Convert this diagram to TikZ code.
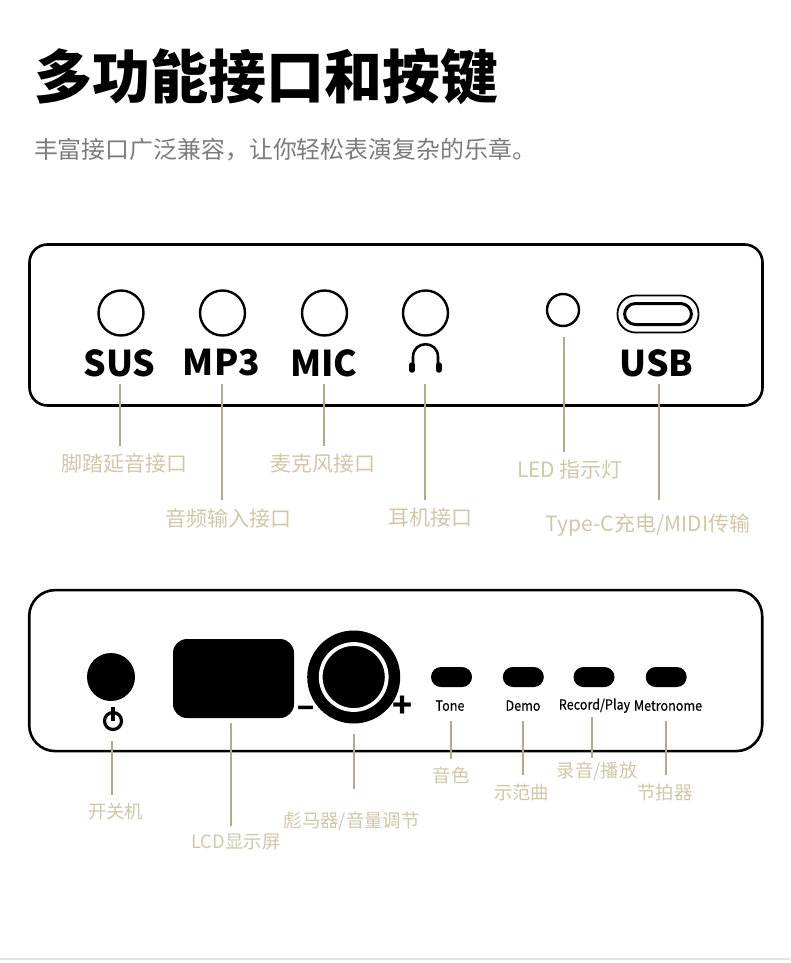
\documentclass[tikz,border=0pt]{standalone}
\usepackage{fontspec}
\usepackage{xcolor}
\setmainfont{Noto Sans CJK SC}
\newfontfamily\narrowfont[FakeStretch=0.9,FakeBold=0.25]{Noto Sans CJK SC}
\definecolor{pnlabel}{HTML}{D2C6A8}
\definecolor{pnlead}{HTML}{B5A88C}
\definecolor{pngrey}{HTML}{7C7C7C}
\definecolor{pnrule}{HTML}{E3E3E3}

\begin{document}
\begin{tikzpicture}[x=1pt,y=-1pt,inner sep=0pt,outer sep=0pt]
  \tikzstyle{panel}=[draw,line width=2.6pt,rounded corners=18pt,minimum width=733pt,minimum height=161pt]
  \tikzstyle{jack}=[draw,circle,line width=2.4pt,minimum size=45pt]
  \tikzstyle{tag}=[font=\fontsize{35.5}{36}\selectfont\bfseries]
  \tikzstyle{btn}=[fill=black,rounded corners=10pt,minimum width=41pt,minimum height=20pt]
  \tikzstyle{btntag}=[font=\fontsize{14}{14}\selectfont\narrowfont]
  \tikzstyle{lab}=[text=pnlabel,font=\fontsize{21}{21}\selectfont]
  \tikzstyle{smalllab}=[text=pnlabel,font=\fontsize{18.4}{19}\selectfont]
  \tikzstyle{lead}=[draw=pnlead,line width=2pt]
  \useasboundingbox (0,0) rectangle (790,963);
  % heading
  \node[anchor=west,font=\fontsize{58}{58}\selectfont\bfseries] (title) at (34,77) {多功能接口和按键};
  \node[anchor=west,text=pngrey,font=\fontsize{23.9}{24}\selectfont] (subtitle) at (34,150) {丰富接口广泛兼容^^^^ff0c让你轻松表演复杂的乐章。};
  % upper panel
  \node[panel] (top) at (396,325) {};
  \node[jack] (sus) at (121,313) {};
  \node[jack] (mp3) at (222.5,313) {};
  \node[jack] (mic) at (324.5,313) {};
  \node[jack] (ear) at (425.5,313) {};
  \node[jack,minimum size=32pt] (led) at (563,310) {};
  \node[draw,line width=1.8pt,rounded corners=18pt,minimum width=81pt,minimum height=37pt] (usbo) at (658,314) {};
  \node[draw,line width=3pt,rounded corners=11pt,minimum width=67pt,minimum height=21pt] (usbi) at (658,314) {};
  \node[tag] (sustag) at (119.5,363) {SUS};
  \node[tag] (mp3tag) at (221.5,363) {MP3};
  \node[tag] (mictag) at (324,363) {MIC};
  \node[tag] (usbtag) at (656.5,363) {USB};
  % headphone
  \draw[line width=2.6pt] (413,367) -- (413,357) .. controls (413,340) and (438,340) .. (438,357) -- (438,367);
  \draw[line width=5.5pt,line cap=round] (412,365) -- (412,370) (439,365) -- (439,370);
  % upper labels
  \node[lab] (suslab) at (124,464) {脚踏延音接口};
  \node[lab] (mp3lab) at (228,518) {音频输入接口};
  \node[lab] (miclab) at (322.5,464) {麦克风接口};
  \node[lab] (earlab) at (430,518) {耳机接口};
  \node[lab] (ledlab) at (570,470) {LED 指示灯};
  \node[lab] (usblab) at (648,525) {Type-C充电/MIDI传输};
  % upper leaders
  \coordinate (susa) at (120,384); \coordinate (susb) at (120,446);
  \coordinate (mp3a) at (222,384); \coordinate (mp3b) at (222,500);
  \coordinate (mica) at (323.5,384); \coordinate (micb) at (323.5,446);
  \coordinate (eara) at (424.5,384); \coordinate (earb) at (424.5,500);
  \coordinate (leda) at (563.7,337); \coordinate (ledb) at (563.7,452);
  \coordinate (usba) at (659,384); \coordinate (usbb) at (659,500);
  \draw[lead] (susa) -- (susb);
  \draw[lead] (mp3a) -- (mp3b);
  \draw[lead] (mica) -- (micb);
  \draw[lead] (eara) -- (earb);
  \draw[lead] (leda) -- (ledb);
  \draw[lead] (usba) -- (usbb);
  % lower panel
  \node[panel,rounded corners=26pt] (bot) at (395.7,670.6) {};
  \node[circle,fill=black,minimum size=48pt] (pwr) at (111,677) {};
  \node[circle,draw,line width=3.2pt,minimum size=17pt] (pwricon) at (113,721) {};
  \draw[line width=3.2pt] (pwricon.center) -- (pwricon.north) -- ++(0,-6);
  \node[fill=black,rounded corners=14pt,minimum width=121pt,minimum height=79pt] (lcd) at (233.5,678.5) {};
  \node[circle,fill=black,minimum size=93pt] (knob) at (353.7,677) {};
  \node[circle,draw=white,line width=3.8pt,minimum size=66pt] (ring) at (353.7,677) {};
  \node[font=\fontsize{28}{28}\selectfont\bfseries] (minus) at (306,712) {−};
  \node[font=\fontsize{33}{33}\selectfont\bfseries] (plus) at (403,707) {+};
  \node[btn] (tone) at (451.5,677) {};
  \node[btn] (demo) at (523.3,677) {};
  \node[btn] (rec) at (594,677) {};
  \node[btn] (metro) at (666.2,677) {};
  \node[btntag] (tonetag) at (450,705.7) {Tone};
  \node[btntag] (demotag) at (523,705.7) {Demo};
  \node[btntag] (rectag) at (594.5,705.7) {Record/Play};
  \node[btntag] (metrotag) at (668,705.7) {Metronome};
  % lower labels
  \node[smalllab] (pwrlab) at (115.7,811.5) {开关机};
  \node[smalllab] (lcdlab) at (236,841.5) {LCD显示屏};
  \node[smalllab] (knoblab) at (351.7,821) {彪马器/音量调节};
  \node[smalllab] (tonelab) at (451,775.5) {音色};
  \node[smalllab] (demolab) at (521.7,792.5) {示范曲};
  \node[smalllab] (reclab) at (597,771.5) {录音/播放};
  \node[smalllab] (metrolab) at (665,792.5) {节拍器};
  % lower leaders
  \coordinate (pwra) at (112,740.7); \coordinate (pwrb) at (112,795);
  \coordinate (lcda) at (231,723); \coordinate (lcdb) at (231,825.7);
  \coordinate (knoba) at (354,734); \coordinate (knobb) at (354,789);
  \coordinate (tonea) at (451,720.7); \coordinate (toneb) at (451,759);
  \coordinate (demoa) at (523,720.7); \coordinate (demob) at (523,775);
  \coordinate (reca) at (592,717); \coordinate (recb) at (592,757.7);
  \coordinate (metroa) at (666,720.7); \coordinate (metrob) at (666,775);
  \draw[lead] (pwra) -- (pwrb);
  \draw[lead] (lcda) -- (lcdb);
  \draw[lead] (knoba) -- (knobb);
  \draw[lead] (tonea) -- (toneb);
  \draw[lead] (demoa) -- (demob);
  \draw[lead] (reca) -- (recb);
  \draw[lead] (metroa) -- (metrob);
  % bottom rule
  \coordinate (rulea) at (0,959); \coordinate (ruleb) at (790,959);
  \draw[pnrule,line width=1.5pt] (rulea) -- (ruleb);
\end{tikzpicture}
\end{document}
